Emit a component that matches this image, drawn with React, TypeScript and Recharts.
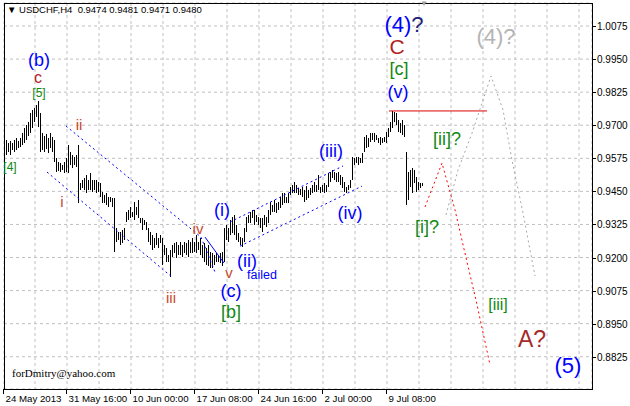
import React from 'react';
import { ComposedChart, XAxis, YAxis, CartesianGrid, Bar, Line, Scatter, ReferenceLine, ReferenceArea } from 'recharts';

// ---- price bars (H4, one entry per bar) ----
const barHigh = [
  0.9663, 0.9644, 0.9633, 0.9640, 0.9633, 0.9644, 0.9652, 0.9640, 0.9652, 0.9670,
  0.9690, 0.9701, 0.9712, 0.9746, 0.9758, 0.9765, 0.9776, 0.9792, 0.9746, 0.9670,
  0.9659, 0.9667, 0.9652, 0.9670, 0.9655, 0.9644, 0.9576, 0.9561, 0.9557, 0.9550,
  0.9561, 0.9576, 0.9625, 0.9599, 0.9587, 0.9580, 0.9587, 0.9625,
  0.9481, 0.9493, 0.9500, 0.9512, 0.9493, 0.9519, 0.9493, 0.9493, 0.9493, 0.9485,
  0.9481, 0.9447, 0.9436, 0.9444, 0.9429, 0.9429, 0.9425, 0.9425, 0.9311, 0.9296,
  0.9296, 0.9304, 0.9311, 0.9372, 0.9380, 0.9391, 0.9372, 0.9410, 0.9391, 0.9417,
  0.9349, 0.9349, 0.9342, 0.9334, 0.9311,
  0.9296, 0.9285, 0.9274, 0.9292, 0.9274, 0.9285, 0.9274, 0.9247, 0.9236, 0.9209,
  0.9228, 0.9247, 0.9255, 0.9258, 0.9247, 0.9258, 0.9247, 0.9258, 0.9255, 0.9266,
  0.9258, 0.9274, 0.9258, 0.9285, 0.9258, 0.9274, 0.9247, 0.9255, 0.9236, 0.9247,
  0.9221, 0.9217, 0.9209, 0.9217, 0.9209, 0.9217,
  0.9221, 0.9311, 0.9323, 0.9311, 0.9342, 0.9353, 0.9361, 0.9323, 0.9292, 0.9277,
  0.9274, 0.9311, 0.9353, 0.9361, 0.9372, 0.9380, 0.9380, 0.9361, 0.9353, 0.9349,
  0.9349, 0.9361, 0.9353, 0.9380, 0.9410, 0.9398, 0.9417, 0.9406, 0.9410, 0.9429,
  0.9444, 0.9444, 0.9429, 0.9444, 0.9466, 0.9474, 0.9485, 0.9474,
  0.9463, 0.9459, 0.9466, 0.9455, 0.9470, 0.9455, 0.9463, 0.9474, 0.9485, 0.9474,
  0.9512, 0.9466, 0.9474, 0.9481, 0.9474, 0.9519, 0.9523, 0.9531, 0.9523, 0.9519,
  0.9523, 0.9512, 0.9504, 0.9485, 0.9466, 0.9474, 0.9493, 0.9580, 0.9576, 0.9580,
  0.9580, 0.9576, 0.9595, 0.9655, 0.9663, 0.9652, 0.9670,
  0.9670, 0.9670, 0.9663, 0.9652, 0.9655, 0.9652, 0.9655, 0.9674, 0.9690, 0.9712,
  0.9754, 0.9750, 0.9746, 0.9720, 0.9708, 0.9720, 0.9701, 0.9599, 0.9523, 0.9531,
  0.9538, 0.9531, 0.9504, 0.9485, 0.9481, 0.9481,
];
const barLow = [
  0.9595, 0.9587, 0.9599, 0.9587, 0.9606, 0.9599, 0.9606, 0.9614, 0.9618, 0.9625,
  0.9633, 0.9644, 0.9659, 0.9670, 0.9690, 0.9712, 0.9731, 0.9693, 0.9599, 0.9606,
  0.9599, 0.9610, 0.9595, 0.9614, 0.9599, 0.9561, 0.9523, 0.9527, 0.9523, 0.9531,
  0.9519, 0.9523, 0.9519, 0.9550, 0.9538, 0.9550, 0.9542, 0.9406,
  0.9455, 0.9463, 0.9455, 0.9444, 0.9455, 0.9455, 0.9447, 0.9455, 0.9444, 0.9447,
  0.9429, 0.9406, 0.9406, 0.9398, 0.9391, 0.9410, 0.9391, 0.9221, 0.9258, 0.9266,
  0.9247, 0.9255, 0.9266, 0.9334, 0.9342, 0.9349, 0.9353, 0.9342, 0.9361, 0.9349,
  0.9330, 0.9304, 0.9323, 0.9304, 0.9258,
  0.9247, 0.9228, 0.9236, 0.9247, 0.9236, 0.9255, 0.9172, 0.9209, 0.9183, 0.9183,
  0.9126, 0.9202, 0.9217, 0.9198, 0.9209, 0.9209, 0.9202, 0.9217, 0.9209, 0.9202,
  0.9217, 0.9217, 0.9221, 0.9217, 0.9228, 0.9209, 0.9198, 0.9183, 0.9172, 0.9168,
  0.9160, 0.9160, 0.9172, 0.9183, 0.9183, 0.9179,
  0.9168, 0.9183, 0.9266, 0.9258, 0.9285, 0.9292, 0.9285, 0.9266, 0.9258, 0.9247,
  0.9239, 0.9258, 0.9296, 0.9330, 0.9330, 0.9349, 0.9323, 0.9334, 0.9323, 0.9311,
  0.9296, 0.9323, 0.9315, 0.9330, 0.9361, 0.9372, 0.9372, 0.9368, 0.9380, 0.9387,
  0.9398, 0.9406, 0.9406, 0.9406, 0.9436, 0.9444, 0.9444, 0.9444,
  0.9436, 0.9436, 0.9429, 0.9410, 0.9417, 0.9425, 0.9436, 0.9444, 0.9447, 0.9447,
  0.9455, 0.9444, 0.9447, 0.9444, 0.9447, 0.9466, 0.9485, 0.9500, 0.9493, 0.9485,
  0.9485, 0.9474, 0.9463, 0.9447, 0.9444, 0.9455, 0.9463, 0.9493, 0.9550, 0.9557,
  0.9550, 0.9557, 0.9557, 0.9599, 0.9614, 0.9618, 0.9637,
  0.9644, 0.9637, 0.9644, 0.9633, 0.9625, 0.9633, 0.9637, 0.9633, 0.9655, 0.9674,
  0.9690, 0.9712, 0.9701, 0.9674, 0.9670, 0.9663, 0.9655, 0.9398, 0.9417, 0.9466,
  0.9444, 0.9481, 0.9447, 0.9455, 0.9463, 0.9471,
];

// ---- axes ----
const xLabelBars = [-0.5, 31, 63, 95, 127, 159, 191];
const xLabelText = ['24 May 2013', '31 May 16:00', '10 Jun 00:00', '17 Jun 08:00', '24 Jun 16:00', '2 Jul 00:00', '9 Jul 08:00'];
const xGridBars = [15, 31, 47, 63, 79, 95, 111, 127, 143, 159, 175, 191, 207, 223, 239, 255, 271, 287];
const yTicks = [0.8825, 0.895, 0.9075, 0.92, 0.9325, 0.945, 0.9575, 0.97, 0.9825, 0.995, 1.0075];

// ---- projected paths ----
const redPathBar = [210, 218.5, 225, 231, 235.5, 242.5];
const redPathPrice = [0.9391, 0.9557, 0.9380, 0.9183, 0.9039, 0.8794];
const grayPathBar = [220.5, 226.5, 233.5, 243, 249, 253.5, 259, 265];
const grayPathPrice = [0.9361, 0.9531, 0.9670, 0.9886, 0.9758, 0.9568, 0.9368, 0.9130];

// ---- channel lines (dotted blue) ----
const channelStartBar = [30.5, 21, 98, 112.5, 117.5];
const channelStartPrice = [0.9697, 0.9523, 0.9277, 0.9334, 0.9243];
const channelEndBar = [98, 83.5, 105, 169, 178.5];
const channelEndPrice = [0.9277, 0.9126, 0.9145, 0.9546, 0.9470];
const wedgeBar = [100, 109.5];
const wedgePrice = [0.9277, 0.9179];
const resistanceBar = [192, 241];
const resistancePrice = 0.9754;

// ---- wave labels ----
const noteText = ['(b)', 'c', '[5]', '[4]', 'ii', 'i', 'iii', 'iv', 'v', '(c)', '[b]', '(i)', '(ii)', 'failed',
  '(iii)', '(iv)', '(v)', '[c]', 'C', '(4)?', '(4)?', '[ii]?', '[i]?', '[iii]', 'A?', '(5)', 'forDmitry@yahoo.com'];
const noteBar = [17, 16.5, 17, 2.5, 37, 28.5, 83, 96.5, 112, 113, 113, 108.5, 121, 128.5,
  163, 172.5, 196.5, 197, 196, 199.5, 245.5, 221, 211, 246.5, 263.5, 281.5, 3.5];
const notePrice = [0.9947, 0.9879, 0.9822, 0.9544, 0.9701, 0.9410, 0.9047, 0.9311, 0.9143, 0.9073, 0.8994, 0.9380, 0.9187, 0.9134,
  0.9603, 0.9368, 0.9826, 0.9913, 0.9996, 1.0083, 1.0037, 0.9648, 0.9315, 0.9024, 0.8892, 0.8790, 0.8763];
const noteKind = ['blue', 'redc', 'greenS', 'greenS', 'roman', 'roman', 'roman', 'roman', 'roman', 'blue', 'green', 'blue', 'blue', 'failed',
  'blue', 'blue', 'blue', 'green', 'bigRed', 'big4', 'gray4', 'green', 'green', 'greenM', 'bigA', 'big5', 'credit'];

const SANS = "'Liberation Sans', Arial, sans-serif";
const SERIF = "'Liberation Serif', 'Times New Roman', serif";
const noteStyles: Record<string, { color: string; size: number; family?: string; anchor?: string }> = {
  blue: { color: '#0000ff', size: 18 },
  redc: { color: '#b22222', size: 16 },
  greenS: { color: '#118811', size: 12 },
  roman: { color: '#c8492a', size: 15 },
  green: { color: '#118811', size: 18 },
  greenM: { color: '#118811', size: 16 },
  failed: { color: '#0000ff', size: 12.5 },
  bigRed: { color: '#b22222', size: 21 },
  big4: { color: '#0000ff', size: 22 },
  gray4: { color: '#b4b4b4', size: 22 },
  bigA: { color: '#a52a2a', size: 23 },
  big5: { color: '#0000ff', size: 22 },
  credit: { color: '#000000', size: 11, family: SERIF, anchor: 'start' },
};

const X_MIN = -0.5, X_MAX = 293.5, Y_MIN = 0.8703, Y_MAX = 1.0162;

const bars = barHigh.map((h, i) => ({ x: i, high: h, low: barLow[i] }));
const notes = noteText.map((t, i) => ({ x: noteBar[i], y: notePrice[i], text: t, kind: noteKind[i] }));
const redPath = redPathBar.map((x, i) => ({ x, y: redPathPrice[i] }));
const grayPath = grayPathBar.map((x, i) => ({ x, y: grayPathPrice[i] }));
const xTicks = [X_MIN, ...xGridBars];

const BarShape = (p: any) => {
  if (p.x == null || p.y == null) return <g />;
  const cx = Math.floor(p.x + p.width / 2);
  const top = Math.min(p.y, p.y + p.height);
  const h = Math.max(1, Math.abs(p.height));
  return <rect x={cx} y={top} width={1} height={h} fill="#000" shapeRendering="crispEdges" />;
};

const NoteShape = (p: any) => {
  const d = p.payload;
  const st = noteStyles[d.kind];
  const family = st.family || SANS;
  const content = d.kind === 'big4'
    ? [<tspan key="a">(4)</tspan>, <tspan key="b" fill="#20207a">?</tspan>]
    : d.text;
  return (
    <text x={p.cx} y={p.cy} textAnchor={st.anchor || 'middle'} dominantBaseline="central"
      fontSize={st.size} fill={st.color} fontFamily={family}>{content}</text>
  );
};

const XTick = (p: any) => {
  const v = p.payload.value;
  const k = xLabelBars.indexOf(v);
  if (k < 0) return <g />;
  const x = Math.round(p.x) - 0.5;
  return (
    <g>
      <line x1={x} x2={x} y1={p.y} y2={p.y + 5} stroke="#000" strokeWidth={1} />
      <text x={x + 2} y={p.y + 12.5} fontSize={9.7} fontFamily={SANS} fill="#000" textAnchor="start">{xLabelText[k]}</text>
    </g>
  );
};

const YTick = (p: any) => {
  const y = Math.round(p.y) + 0.5;
  return (
    <g>
      <line x1={p.x} x2={p.x + 4} y1={y} y2={y} stroke="#000" strokeWidth={1} />
      <text x={p.x + 5} y={y + 3.5} fontSize={10} fontFamily={SANS} fill="#000" textAnchor="start">{p.payload.value.toFixed(4)}</text>
    </g>
  );
};

export default function App() {
  return (
    <div style={{ position: 'absolute', left: 0, top: 0, width: 630, height: 406, background: '#fff', overflow: 'hidden' }}>
      <ComposedChart width={630} height={406} data={bars} margin={{ top: 3, right: 0, bottom: 0, left: 4 }}>
        <CartesianGrid stroke="#c0c0c0" strokeDasharray="3 3" />
        <XAxis dataKey="x" type="number" domain={[X_MIN, X_MAX]} allowDataOverflow ticks={xTicks} interval={0}
          height={17} tickSize={0} tickMargin={0} axisLine={false} tickLine={false} tick={<XTick />} />
        <YAxis type="number" orientation="right" domain={[Y_MIN, Y_MAX]} allowDataOverflow ticks={yTicks} interval={0}
          width={38} tickSize={0} tickMargin={0} axisLine={false} tickLine={false} tick={<YTick />} />
        {channelStartBar.map((b, i) => (
          <ReferenceLine key={'ch' + i} segment={[{ x: b, y: channelStartPrice[i] }, { x: channelEndBar[i], y: channelEndPrice[i] }]}
            stroke="#0000ff" strokeWidth={1} strokeDasharray="2 3" ifOverflow="visible" />
        ))}
        <ReferenceLine segment={[{ x: wedgeBar[0], y: wedgePrice[0] }, { x: wedgeBar[1], y: wedgePrice[1] }]}
          stroke="#0000ff" strokeWidth={1} ifOverflow="visible" />
        <ReferenceLine segment={[{ x: resistanceBar[0], y: resistancePrice }, { x: resistanceBar[1], y: resistancePrice }]}
          stroke="#dd0000" strokeWidth={1} ifOverflow="visible" />
        <Bar dataKey={(d: any) => [d.low, d.high]} barSize={1} shape={<BarShape />} isAnimationActive={false} />
        <Line data={redPath} dataKey="y" stroke="#ff0000" strokeWidth={1} strokeDasharray="2 3" dot={false} isAnimationActive={false} />
        <Line data={grayPath} dataKey="y" stroke="#a8a8a8" strokeWidth={1} strokeDasharray="2 3" dot={false} isAnimationActive={false} />
        <Scatter data={notes} dataKey="y" shape={<NoteShape />} isAnimationActive={false} />
        <ReferenceArea x1={X_MIN} x2={X_MAX} y1={Y_MIN} y2={Y_MAX} fill="none" fillOpacity={0} stroke="#000" strokeWidth={1}
          ifOverflow="visible" shapeRendering="crispEdges" />
      </ComposedChart>
      <div style={{ position: 'absolute', left: 7, top: 4, fontSize: 9.5, lineHeight: '12px', fontFamily: SANS, color: '#000', whiteSpace: 'pre' }}>
        {'\u25BC USDCHF,H4  0.9474 0.9481 0.9471 0.9480'}
      </div>
      <div style={{ position: 'absolute', left: 420, top: 0, fontSize: 8, lineHeight: '8px', fontFamily: SANS, color: '#a0a0a0' }}>{'\u25BC'}</div>
    </div>
  );
}
